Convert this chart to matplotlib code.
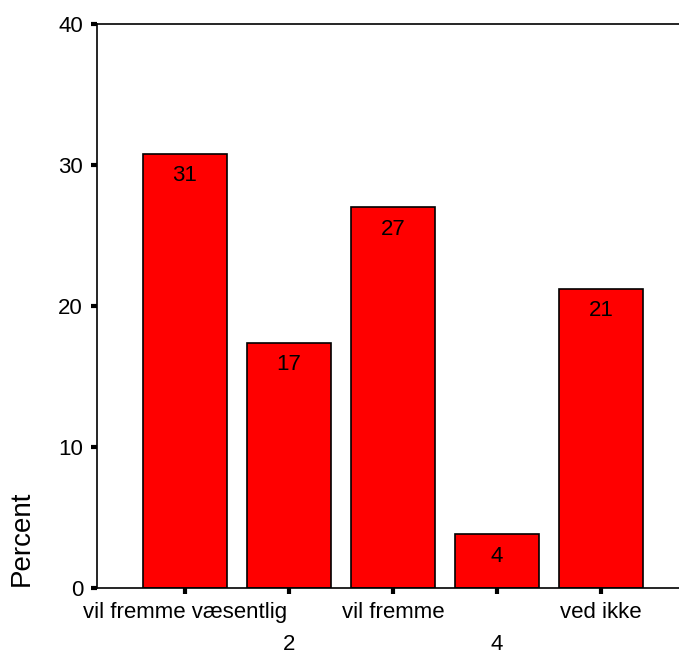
import numpy as np
import matplotlib
matplotlib.use("Agg")
import matplotlib.pyplot as plt

plt.rcParams['font.family'] = ['Liberation Sans', 'DejaVu Sans']

# ------------------------------- Data -------------------------------
categories = ['vil fremme væsentlig', '2', 'vil fremme', '4', 'ved ikke']
percent = [30.8, 17.4, 27.0, 3.8, 21.2]
yticks = [0, 10, 20, 30, 40]

# ------------------------------- Plot -------------------------------
fig = plt.figure(figsize=(6.79, 6.57), dpi=100)
ax = fig.add_axes([97 / 679, 69 / 657, 1 - 97 / 679, (588 - 24) / 657])

x = np.arange(len(categories))
bars = ax.bar(x, percent, width=0.81, color='#ff0000', edgecolor='black', linewidth=1.2)

for xi, v in zip(x, percent):
    ax.text(xi, v - 0.8, f"{v:.0f}", ha='center', va='top', fontsize=16)

ax.set_xlim(-0.846, 4.75)
ax.set_ylim(0, 40)
ax.set_yticks(yticks)
ax.set_yticklabels([str(t) for t in yticks], fontsize=16)

ax.set_xticks(x)
ax.set_xticklabels(categories, fontsize=16)

ax.tick_params(direction='out', length=4, width=3, pad=6)
# staggered labels: every second one on a lower row
for i, tick in enumerate(ax.xaxis.get_major_ticks()):
    if i % 2 == 1:
        tick.set_pad(29)

ax.spines['right'].set_visible(False)
for s in ['left', 'bottom', 'top']:
    ax.spines[s].set_linewidth(1.2)

fig.text(22 / 679, 71 / 657, 'Percent', rotation=90, ha='center', va='bottom', fontsize=20)

plt.savefig('out.png', dpi=100)
plt.close()
